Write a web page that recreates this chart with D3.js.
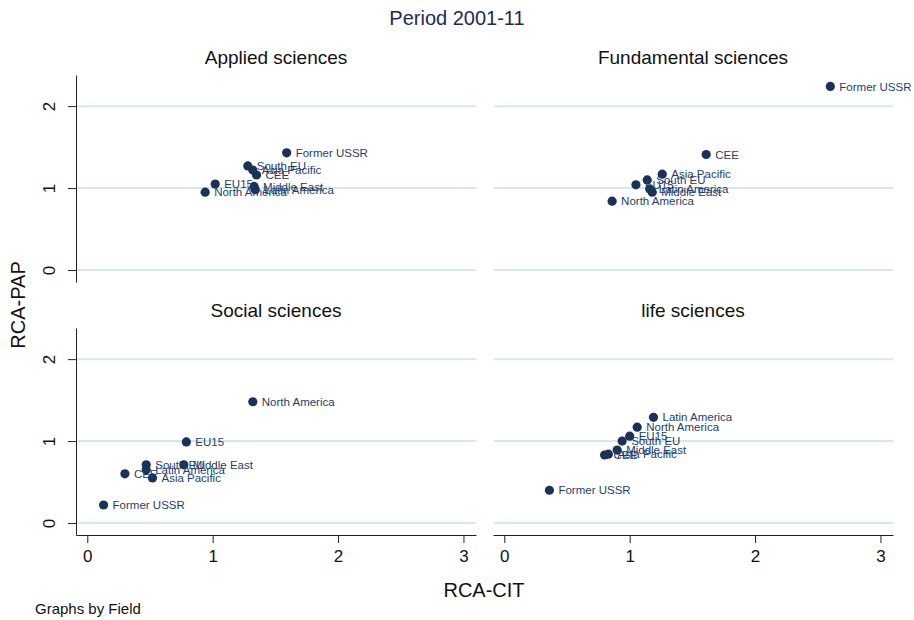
<!DOCTYPE html>
<html>
<head>
<meta charset="utf-8">
<script src="https://cdn.jsdelivr.net/npm/d3@7"></script>
<style>
  body { margin: 0; background: #fff; }
  text { font-family: "Liberation Sans", Arial, sans-serif; }
</style>
</head>
<body>
<div id="svg"></div>
<script>
// regions, same order in every field
let regions = ['North America', 'EU15', 'South EU', 'CEE', 'Former USSR', 'Middle East', 'Latin America', 'Asia Pacific'];
let fields = ['Applied sciences', 'Fundamental sciences', 'Social sciences', 'life sciences'];

// RCA-CIT (x) and RCA-PAP (y) per field
let appliedCit = [0.94, 1.02, 1.28, 1.35, 1.59, 1.33, 1.34, 1.32];
let appliedPap = [0.95, 1.05, 1.27, 1.16, 1.43, 1.02, 0.98, 1.22];
let fundCit = [0.86, 1.05, 1.14, 1.61, 2.60, 1.18, 1.16, 1.26];
let fundPap = [0.84, 1.04, 1.10, 1.41, 2.24, 0.95, 0.99, 1.17];
let socialCit = [1.32, 0.79, 0.47, 0.30, 0.13, 0.77, 0.47, 0.52];
let socialPap = [1.48, 0.99, 0.71, 0.60, 0.22, 0.71, 0.65, 0.55];
let lifeCit = [1.06, 1.00, 0.94, 0.80, 0.36, 0.90, 1.19, 0.83];
let lifePap = [1.17, 1.06, 1.00, 0.83, 0.40, 0.89, 1.29, 0.84];

let xTicks = [0, 1, 2, 3];
let yTicks = [0, 1, 2];

let cits = [appliedCit, fundCit, socialCit, lifeCit];
let paps = [appliedPap, fundPap, socialPap, lifePap];

//dimensions
let w = 914;
let h = 620;
let pw = 400;
let ph = 207;
let panelX = [76, 493];
let panelY = [75, 328];

let svg = d3.select('#svg').
append('svg').
attr('width', w).
attr('height', h);

let xScale = d3.scaleLinear().domain([-0.09, 3.1]).range([0, pw]);
let yScale = d3.scaleLinear().domain([-0.146, 2.38]).range([ph, 0]);

let dotColor = '#1c3157';
let labelColor = '#1f3d6b';
let gridColor = '#d6e8ea';

//main title
svg.append('text').
text('Period 2001-11').
attr('x', w / 2).
attr('y', 25).
attr('text-anchor', 'middle').
attr('font-size', 20).
attr('fill', '#1e2a55');

fields.forEach((f, k) => {
  let col = k % 2;
  let row = Math.floor(k / 2);
  let g = svg.append('g').
  attr('transform', 'translate(' + panelX[col] + ',' + panelY[row] + ')');

  //panel title
  g.append('text').
  text(f).
  attr('x', 200).
  attr('y', -11).
  attr('text-anchor', 'middle').
  attr('font-size', 19).
  attr('fill', '#111');

  //grid
  g.selectAll('.grid').
  data(yTicks).
  enter().
  append('line').
  attr('x1', 1).
  attr('x2', pw).
  attr('y1', d => yScale(d)).
  attr('y2', d => yScale(d)).
  attr('stroke', gridColor).
  attr('stroke-width', 2);

  //y axis on left column
  if (col === 0) {
    let yAxis = d3.axisLeft(yScale).tickValues(yTicks).tickFormat(d3.format('d')).tickSize(8).tickSizeOuter(0);
    let ya = g.append('g').call(yAxis);
    ya.select('.domain').attr('stroke', '#222');
    ya.selectAll('.tick line').attr('stroke', '#222');
    ya.selectAll('.tick text').
    attr('font-size', 17).
    attr('fill', '#111').
    attr('x', 0).
    attr('y', 0).
    attr('dy', '0.35em').
    attr('text-anchor', 'middle').
    attr('transform', 'translate(-27,0) rotate(-90)');
  }

  //x axis on bottom row
  if (row === 1) {
    let xAxis = d3.axisBottom(xScale).tickValues(xTicks).tickFormat(d3.format('d')).tickSize(8).tickSizeOuter(0).tickPadding(7);
    let xa = g.append('g').
    attr('transform', 'translate(0,' + ph + ')').
    call(xAxis);
    xa.select('.domain').attr('stroke', '#222');
    xa.selectAll('.tick line').attr('stroke', '#222');
    xa.selectAll('.tick text').
    attr('font-size', 17).
    attr('fill', '#111');
  }

  let xs = cits[k];
  let ys = paps[k];

  //points
  g.selectAll('circle').
  data(regions).
  enter().
  append('circle').
  attr('cx', (d, i) => xScale(xs[i])).
  attr('cy', (d, i) => yScale(ys[i])).
  attr('r', 4.6).
  attr('fill', dotColor);

  //marker labels
  g.selectAll('.lab').
  data(regions).
  enter().
  append('text').
  attr('class', 'lab').
  text(d => d).
  attr('x', (d, i) => xScale(xs[i]) + 9).
  attr('y', (d, i) => yScale(ys[i])).
  attr('dy', '0.36em').
  attr('font-size', 11.5).
  attr('fill', labelColor);
});

//axis titles
svg.append('text').
text('RCA-PAP').
attr('transform', 'translate(25,305) rotate(-90)').
attr('text-anchor', 'middle').
attr('font-size', 20).
attr('fill', '#111');

svg.append('text').
text('RCA-CIT').
attr('x', 484).
attr('y', 597).
attr('text-anchor', 'middle').
attr('font-size', 20).
attr('fill', '#111');

svg.append('text').
text('Graphs by Field').
attr('x', 35).
attr('y', 614).
attr('font-size', 15).
attr('fill', '#111');
</script>
</body>
</html>
